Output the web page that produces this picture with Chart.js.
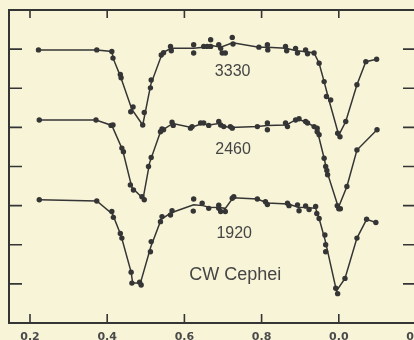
<!DOCTYPE html>
<html>
<head>
<meta charset="utf-8">
<script src="https://cdn.jsdelivr.net/npm/chart.js@4"></script>
<style>
  html, body { margin: 0; padding: 0; background: #f8f4d8; overflow: hidden; }
  #wrap { position: relative; width: 424px; height: 340px; }
</style>
</head>
<body>
<div id="wrap"><canvas id="lightCurves"></canvas></div>
<script>
// phase runs past 1.0 (shown as 0.0, 0.2 again); level is in tick units
const xTickValues = [0.2, 0.4, 0.6, 0.8, 1.0, 1.2];
const xTickLabels = ['0.2', '0.4', '0.6', '0.8', '0.0', '0.2'];
const yTickValues = [1, 2, 3, 4, 5, 6, 7];

// 3330
const dotPhase3330 = [0.222, 0.373, 0.412, 0.415, 0.434, 0.436, 0.461, 0.467, 0.492, 0.496, 0.512, 0.514, 0.540, 0.546, 0.564, 0.566, 0.624, 0.624, 0.650, 0.659, 0.668, 0.668, 0.689, 0.694, 0.698, 0.706, 0.724, 0.726, 0.793, 0.815, 0.816, 0.862, 0.865, 0.888, 0.893, 0.914, 0.919, 0.936, 0.949, 0.962, 0.968, 0.979, 0.997, 1.003, 1.018, 1.047, 1.070, 1.098];
const dotLevel3330 = [6.98, 6.98, 6.94, 6.77, 6.35, 6.27, 5.40, 5.52, 5.06, 5.38, 6.01, 6.21, 6.85, 6.91, 7.07, 6.96, 7.11, 6.90, 7.07, 7.07, 7.24, 7.07, 7.11, 7.02, 6.90, 6.90, 7.30, 7.13, 7.05, 7.11, 6.98, 7.07, 6.96, 7.02, 6.90, 6.98, 6.88, 6.90, 6.64, 6.17, 5.79, 5.70, 4.85, 4.76, 5.15, 6.09, 6.68, 6.74];
const linePhase3330 = [0.222, 0.373, 0.412, 0.416, 0.434, 0.464, 0.492, 0.513, 0.541, 0.546, 0.565, 0.624, 0.650, 0.668, 0.694, 0.725, 0.793, 0.815, 0.863, 0.890, 0.916, 0.936, 0.949, 0.962, 0.973, 1.000, 1.018, 1.047, 1.070, 1.098];
const lineLevel3330 = [6.98, 6.98, 6.94, 6.75, 6.31, 5.46, 5.06, 6.10, 6.85, 6.92, 7.02, 7.02, 7.05, 7.10, 7.05, 7.16, 7.05, 7.05, 7.02, 6.96, 6.93, 6.90, 6.64, 6.17, 5.75, 4.80, 5.15, 6.09, 6.68, 6.74];

// 2460
const dotPhase2460 = [0.224, 0.371, 0.410, 0.415, 0.438, 0.442, 0.460, 0.468, 0.490, 0.496, 0.507, 0.514, 0.538, 0.542, 0.546, 0.568, 0.571, 0.616, 0.620, 0.642, 0.650, 0.663, 0.689, 0.694, 0.702, 0.719, 0.724, 0.789, 0.815, 0.815, 0.862, 0.867, 0.888, 0.897, 0.914, 0.919, 0.936, 0.944, 0.944, 0.949, 0.962, 0.966, 0.969, 0.971, 0.996, 1.000, 1.004, 1.021, 1.047, 1.099];
const dotLevel2460 = [5.19, 5.19, 5.05, 5.06, 4.47, 4.38, 3.53, 3.40, 3.23, 3.15, 4.00, 4.23, 4.89, 4.96, 4.94, 5.13, 5.05, 4.98, 5.02, 5.11, 5.11, 5.05, 5.15, 5.06, 5.02, 5.02, 4.98, 5.02, 5.11, 4.94, 5.11, 5.02, 5.19, 5.22, 5.15, 5.11, 5.02, 4.98, 4.89, 4.81, 4.21, 4.00, 3.90, 3.79, 3.00, 2.92, 2.92, 3.49, 4.42, 4.94];
const linePhase2460 = [0.224, 0.371, 0.412, 0.440, 0.464, 0.493, 0.510, 0.538, 0.546, 0.570, 0.618, 0.646, 0.663, 0.690, 0.700, 0.720, 0.789, 0.815, 0.864, 0.888, 0.897, 0.916, 0.936, 0.946, 0.962, 0.970, 0.999, 1.021, 1.047, 1.099];
const lineLevel2460 = [5.19, 5.19, 5.05, 4.42, 3.46, 3.18, 4.10, 4.89, 4.95, 5.10, 5.00, 5.10, 5.06, 5.10, 5.03, 5.00, 5.02, 5.05, 5.06, 5.19, 5.20, 5.13, 5.02, 4.85, 4.21, 3.85, 2.95, 3.49, 4.42, 4.94];

// 1920
const dotPhase1920 = [0.224, 0.373, 0.412, 0.416, 0.434, 0.438, 0.462, 0.464, 0.484, 0.488, 0.512, 0.514, 0.538, 0.542, 0.564, 0.568, 0.624, 0.623, 0.646, 0.663, 0.689, 0.689, 0.694, 0.706, 0.724, 0.728, 0.789, 0.810, 0.815, 0.867, 0.871, 0.893, 0.897, 0.914, 0.923, 0.940, 0.943, 0.949, 0.964, 0.966, 0.966, 0.992, 0.997, 1.016, 1.047, 1.072, 1.096];
const dotLevel1920 = [3.15, 3.12, 2.85, 2.70, 2.29, 2.17, 1.30, 1.02, 1.04, 0.97, 1.82, 2.08, 2.59, 2.72, 2.76, 2.87, 3.17, 2.86, 3.06, 2.93, 3.01, 2.93, 2.85, 2.85, 3.19, 3.23, 3.17, 3.10, 3.03, 3.06, 3.00, 3.02, 2.87, 2.99, 2.90, 2.98, 2.80, 2.67, 2.25, 2.00, 1.82, 0.89, 0.75, 1.14, 2.17, 2.65, 2.57];
const linePhase1920 = [0.224, 0.373, 0.414, 0.436, 0.462, 0.466, 0.486, 0.513, 0.540, 0.566, 0.624, 0.648, 0.663, 0.690, 0.706, 0.726, 0.789, 0.815, 0.869, 0.895, 0.918, 0.940, 0.949, 0.965, 0.994, 1.016, 1.047, 1.072, 1.096];
const lineLevel1920 = [3.15, 3.12, 2.78, 2.23, 1.30, 1.02, 1.02, 1.95, 2.65, 2.82, 3.02, 3.00, 2.96, 2.95, 2.93, 3.20, 3.17, 3.07, 3.04, 2.96, 2.95, 2.93, 2.67, 2.10, 0.82, 1.14, 2.17, 2.65, 2.57];

const ink = '#353535';

function pts(xs, ys) {
  return xs.map((x, i) => ({ x: x, y: ys[i] }));
}

function curve(lx, ly) {
  return {
    type: 'line', data: pts(lx, ly),
    borderColor: ink, borderWidth: 1.5,
    pointRadius: 0, tension: 0, order: 2
  };
}

function dots(dx, dy) {
  return {
    type: 'scatter', data: pts(dx, dy),
    backgroundColor: ink, borderWidth: 0,
    pointRadius: 2.7, order: 1
  };
}

// frame with inward ticks on all four sides + the text labels
const framePlugin = {
  id: 'frame',
  afterDraw(chart) {
    const { ctx, chartArea: a, scales: { x, y } } = chart;
    ctx.save();
    ctx.strokeStyle = ink;
    ctx.lineWidth = 2;
    ctx.strokeRect(a.left, a.top, a.right - a.left, a.bottom - a.top);
    ctx.lineWidth = 1.6;
    ctx.beginPath();
    xTickValues.forEach(v => {
      const px = x.getPixelForValue(v);
      ctx.moveTo(px, a.bottom); ctx.lineTo(px, a.bottom - 9);
      ctx.moveTo(px, a.top); ctx.lineTo(px, a.top + 8);
    });
    yTickValues.forEach(v => {
      const py = y.getPixelForValue(v);
      ctx.moveTo(a.left, py); ctx.lineTo(a.left + 13, py);
      ctx.moveTo(a.right, py); ctx.lineTo(a.right - 13, py);
    });
    ctx.stroke();

    ctx.fillStyle = '#454545';
    ctx.textAlign = 'center';
    ctx.textBaseline = 'middle';
    ctx.font = '16px "Liberation Sans"';
    ctx.fillText('3330', x.getPixelForValue(0.725), y.getPixelForValue(6.42));
    ctx.fillText('2460', x.getPixelForValue(0.726), y.getPixelForValue(4.43));
    ctx.fillText('1920', x.getPixelForValue(0.729), y.getPixelForValue(2.29));
    ctx.font = '18px "Liberation Sans"';
    ctx.fillText('CW Cephei', x.getPixelForValue(0.732), y.getPixelForValue(1.23));
    ctx.restore();
  }
};

new Chart(document.getElementById('lightCurves'), {
  data: {
    datasets: [
      curve(linePhase3330, lineLevel3330), dots(dotPhase3330, dotLevel3330),
      curve(linePhase2460, lineLevel2460), dots(dotPhase2460, dotLevel2460),
      curve(linePhase1920, lineLevel1920), dots(dotPhase1920, dotLevel1920)
    ]
  },
  options: {
    responsive: true,
    maintainAspectRatio: false,
    animation: false,
    layout: { padding: { left: 9, top: 10, right: 8, bottom: 0 } },
    plugins: { legend: { display: false }, tooltip: { enabled: false } },
    scales: {
      x: {
        type: 'linear', min: 0.1456, max: 1.2,
        grid: { display: false },
        border: { display: false },
        afterBuildTicks: s => { s.ticks = xTickValues.map(v => ({ value: v })); },
        afterFit: s => { s.height = 17; s.paddingLeft = 0; s.paddingRight = 0; },
        ticks: {
          autoSkip: false, maxRotation: 0, padding: 0,
          color: '#4a4a4a',
          font: { family: 'DejaVu Sans', size: 11, weight: 'bold' },
          callback: (v, i) => xTickLabels[i]
        }
      },
      y: { type: 'linear', min: 0, max: 8, display: false }
    }
  },
  plugins: [framePlugin]
});
</script>
</body>
</html>
